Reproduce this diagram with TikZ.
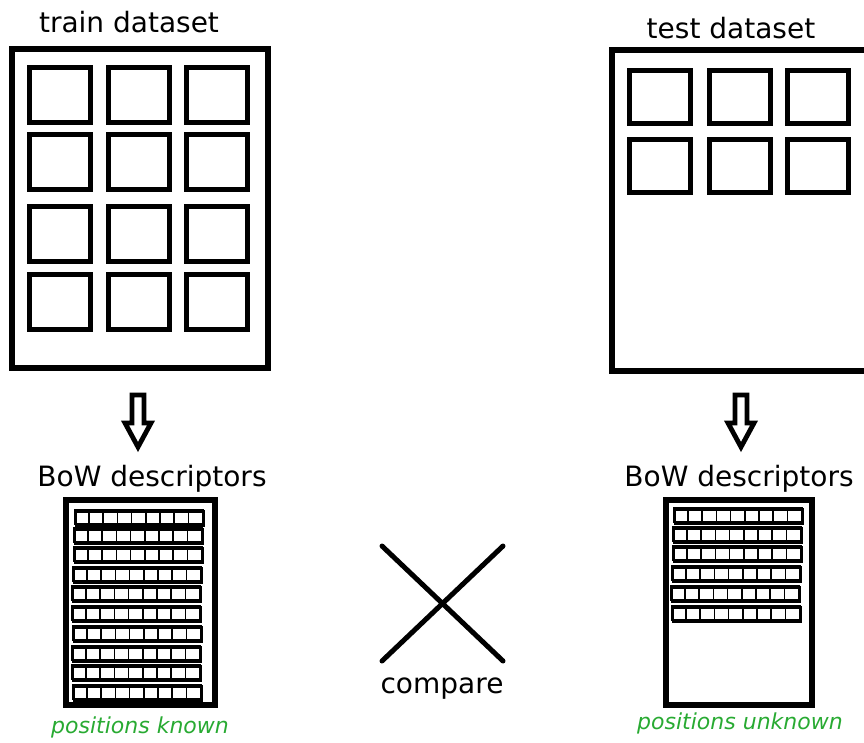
\documentclass[tikz,border=0pt]{standalone}
\usepackage{fontspec}
\setmainfont{DejaVu Sans}
\usetikzlibrary{positioning, calc}
\definecolor{posgreen}{RGB}{40,170,50}

\begin{document}
\begin{tikzpicture}[x=1pt, y=-1pt]
    \tikzset{
      frame/.style={
        rectangle, draw=black, line width=5.5pt,
        inner sep=0pt, fill=none
      },
      imgbox/.style={
        rectangle, draw=black, line width=5pt,
        minimum width=61pt, minimum height=55pt, inner sep=0pt
      },
      strip/.style={
        rectangle, draw=black, line width=2.6pt,
        minimum width=128pt, minimum height=14pt, inner sep=0pt
      },
      cell/.style={draw=black, line width=1.7pt},
      title/.style={
        font=\fontsize{28}{32}\selectfont,
        anchor=base, inner sep=0pt
      },
      note/.style={
        font=\fontsize{22}{26}\selectfont\itshape,
        text=posgreen, anchor=base, inner sep=0pt
      },
      blockarrow/.style={draw=black, line width=4.8pt, fill=white, line join=miter}
    }
    \useasboundingbox (0,0) rectangle (864,742);
    \clip (0,0) rectangle (864,742);

    % Train dataset
    \node[title] (traintitle) at (129,32) {train dataset};
    \node[frame, minimum width=256pt, minimum height=319pt] (train) at (140,208.5) {};
    \foreach \y [count=\r] in {94.5,161.5,233.5,301.5}
      \foreach \x [count=\c] in {59.5,138.5,217}
        \node[imgbox] (tr-\r-\c) at (\x,\y) {};

    % Test dataset
    \node[title] (testtitle) at (731,38) {test dataset};
    \node[frame, minimum width=270pt, minimum height=321pt] (test) at (747,210.5) {};
    \foreach \y [count=\r] in {96.5,165.5}
      \foreach \x [count=\c] in {660,739.5,817.5}
        \node[imgbox, minimum height=53pt] (te-\r-\c) at (\x,\y) {};

    % Arrows
    \coordinate (arrL) at (138,395);
    \coordinate (arrR) at (741,395);
    \foreach \a in {arrL,arrR}
      \draw[blockarrow] (\a) ++(-6,0) -- ++(12,0) -- ++(0,28) -- ++(7,0)
        -- ++(-13,24) -- ++(-13,-24) -- ++(7,0) -- cycle;

    % Descriptors, train side
    \node[title] (bowL) at (152,486) {BoW descriptors};
    \node[frame, line width=6pt, minimum width=149pt, minimum height=205pt] (descL) at (140,602) {};
    \foreach \y/\x [count=\r] in {518.5/140,536.5/139,555.5/139,575.5/138,594.5/137,
                                  614.5/137,634.5/138,654.5/137,673.5/137,693.5/138} {
      \node[strip] (sL-\r) at (\x,\y) {};
      \foreach \k in {0,...,8}
        \draw[cell] ($(sL-\r.north west)+(\k*14.22,0)$) rectangle ++(14.22,14);
    }
    \node[note] (knownL) at (140,733) {positions known};

    % Descriptors, test side
    \node[title] (bowR) at (739,486) {BoW descriptors};
    \node[frame, line width=6pt, minimum width=146pt, minimum height=205pt] (descR) at (738.5,602) {};
    \foreach \y/\x [count=\r] in {516.5/739,535.5/738,554.5/738,574.5/737,594.5/736,614.5/737} {
      \node[strip] (sR-\r) at (\x,\y) {};
      \foreach \k in {0,...,8}
        \draw[cell] ($(sR-\r.north west)+(\k*14.22,0)$) rectangle ++(14.22,14);
    }
    \node[note] (unknownR) at (740,729) {positions unknown};

    % Compare cross
    \coordinate (xa) at (382,546);
    \coordinate (xb) at (503,661);
    \coordinate (xc) at (503,546);
    \coordinate (xd) at (382,661);
    \draw[line width=5pt, line cap=round] (xa) -- (xb) (xc) -- (xd);
    \node[title] (cmp) at (442,693) {compare};
  \end{tikzpicture}
\end{document}
